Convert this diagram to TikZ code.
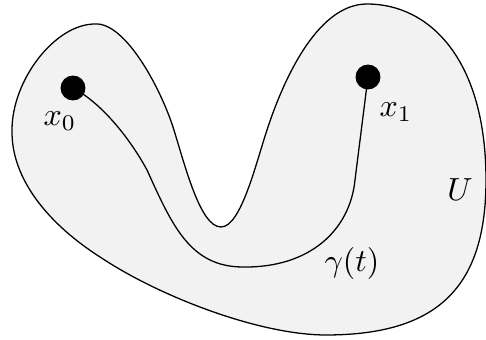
\documentclass[tikz,border=0pt]{standalone}
\begin{document}
\begin{tikzpicture}[x=0.3125pt,y=-0.3125pt,
  dot/.style={circle,fill=black,inner sep=0pt,minimum size=7.8pt},
  region/.style={draw=black,line width=0.4pt,fill=black!5},
  pathline/.style={draw=black,line width=0.4pt},
  lbl/.style={inner sep=0pt}]
\useasboundingbox (0,0) rectangle (486,340);
\path[region] (95,24)
  .. controls (125,22) and (160,87) .. (173,127)
  .. controls (185,165) and (200,227) .. (221,227)
  .. controls (241,227) and (256,163) .. (267,130)
  .. controls (281,87) and (315,4) .. (367,4)
  .. controls (430,4) and (486,60) .. (486,180)
  .. controls (486,285) and (440,335) .. (326,335)
  .. controls (260,335) and (160,297) .. (100,257)
  .. controls (50,225) and (11,180) .. (12,130)
  .. controls (12,80) and (55,24) .. (95,24) -- cycle;
\node[dot] (x0) at (73,88) {};
\node[dot] (x1) at (368,77) {};
\draw[pathline] (x0.center)
  .. controls (105,105) and (133,144) .. (147,170)
  .. controls (172,225) and (190,267) .. (243,267)
  .. controls (310,268) and (350,230) .. (355,180)
  -- (x1.center);
\node[lbl] (l0) at (60,121) {$x_0$};
\node[lbl] (l1) at (396,112) {$x_1$};
\node[lbl] (lU) at (460,190) {$U$};
\node[lbl] (lg) at (352,264) {$\gamma(t)$};
\end{tikzpicture}
\end{document}
